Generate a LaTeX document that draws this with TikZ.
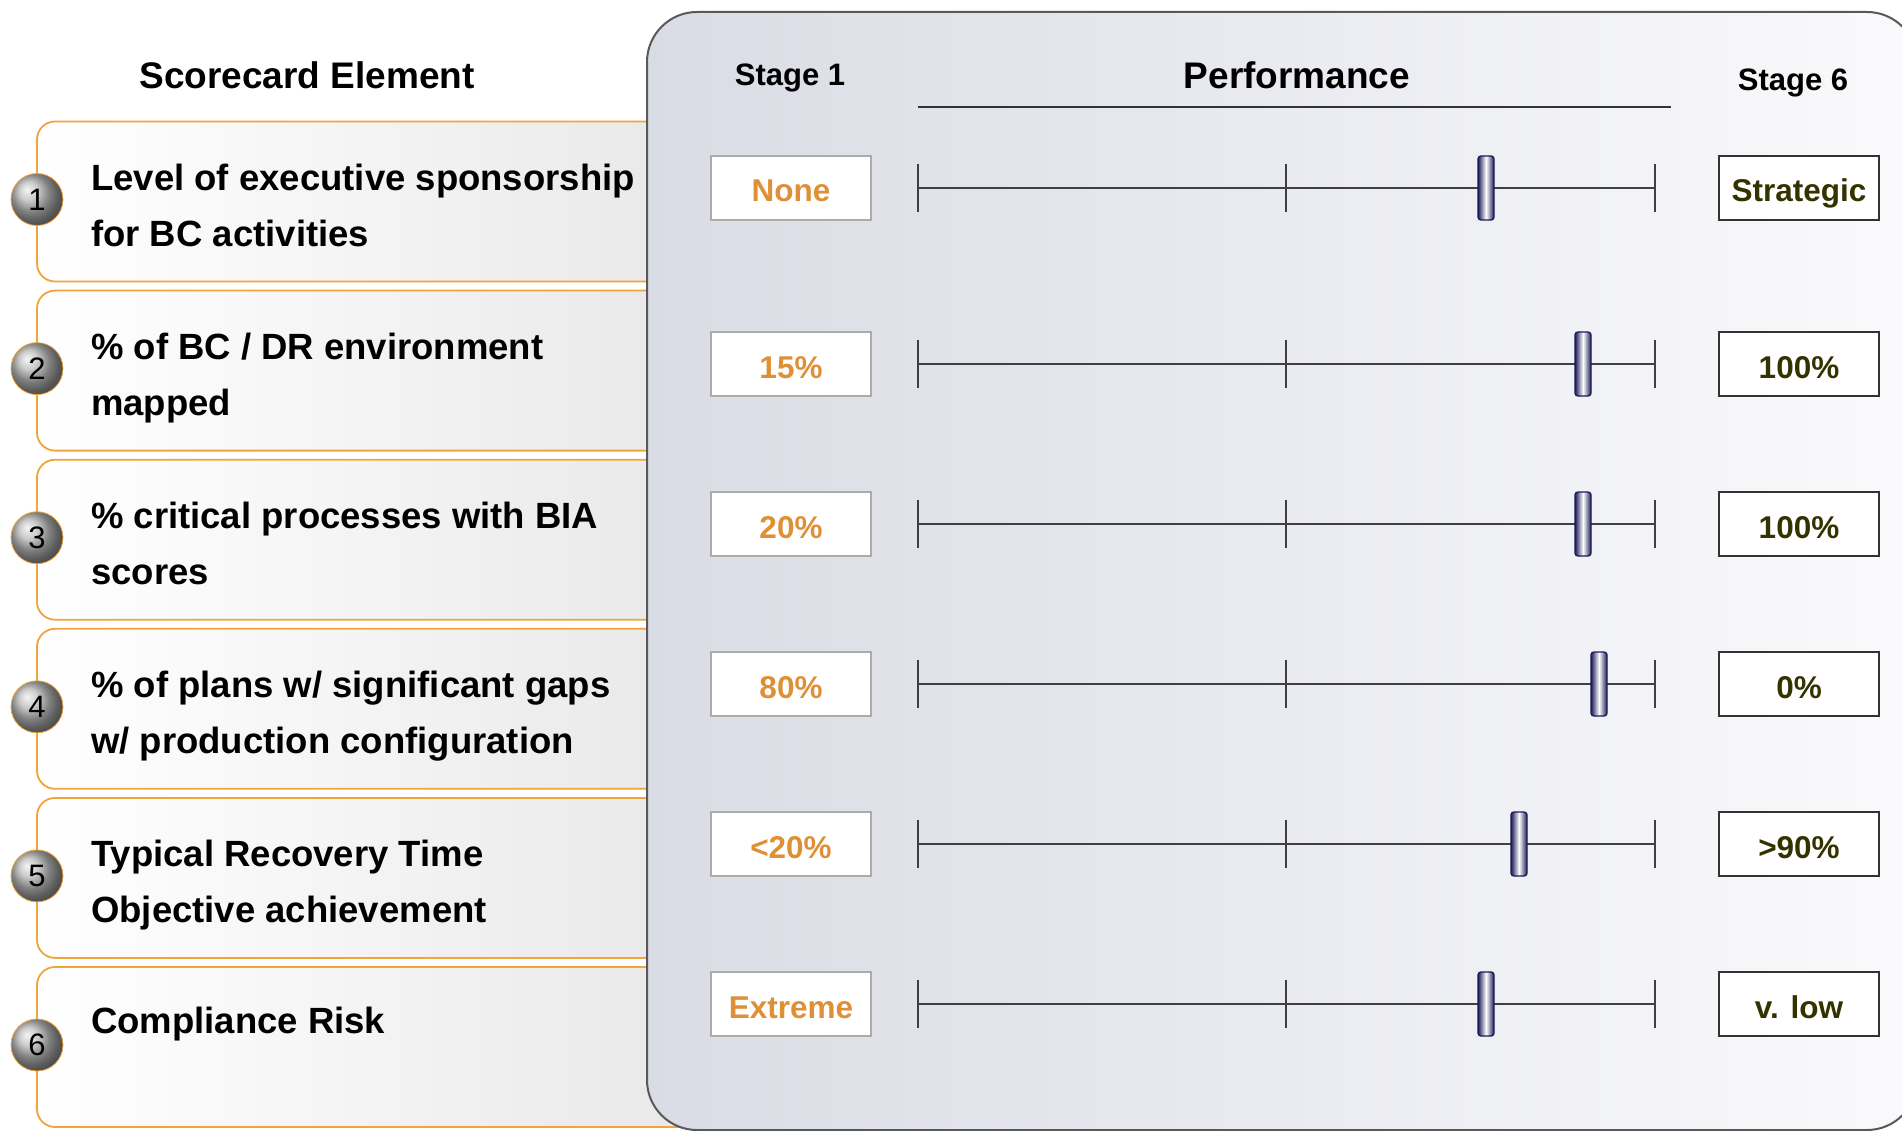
\documentclass[tikz,border=0pt]{standalone}
\usepackage{fontspec}
\setmainfont{Liberation Sans}
\usepackage{tikz}

\definecolor{cardorange}{HTML}{F0A53A}
\definecolor{lowtext}{HTML}{DF9036}
\definecolor{hightext}{HTML}{333300}
\definecolor{panelleft}{HTML}{DADCE5}
\definecolor{panelright}{HTML}{FAFAFC}
\definecolor{knobnavy}{HTML}{1C1C58}

\begin{document}
\begin{tikzpicture}[x=1pt, y=-1pt,
        card/.style={draw=cardorange, line width=1.8pt, rounded corners=18pt, left color=white, right color=gray!18},
        ballnum/.style={circle, minimum size=52pt, inner sep=0pt, ball color=gray!55, draw=cardorange, line width=0.8pt, font=\fontsize{31}{31}\selectfont},
        rowtext/.style={anchor=base west, inner sep=0pt, font=\bfseries\fontsize{36.5}{40}\selectfont},
        headtext/.style={anchor=base, inner sep=0pt, font=\bfseries\fontsize{37}{40}\selectfont},
        stagetext/.style={anchor=base, inner sep=0pt, font=\bfseries\fontsize{31}{34}\selectfont},
        lowbox/.style={draw=gray!65, line width=1.5pt, fill=white, minimum width=160pt, minimum height=64pt, text height=28pt, text depth=0pt, inner sep=0pt, text=lowtext, font=\bfseries\fontsize{31.5}{34}\selectfont},
        highbox/.style={lowbox, draw=black!80, line width=1.8pt, text=hightext},
        slider/.style={draw=black!75, line width=1.5pt},
        knob/.style={rectangle, rounded corners=3pt, minimum width=16pt, minimum height=64pt, inner sep=0pt, draw=knobnavy, line width=1.4pt, left color=knobnavy, right color=knobnavy, middle color=white}]
        \useasboundingbox (0,0) rectangle (1902,1131);
        \clip (0,0) rectangle (1902,1131);

        % scorecard elements
        \node[headtext] (scoretitle) at (307,89) {Scorecard Element};
        \draw[card] (37,121.5) rectangle (700,281.5);
        \draw[card] (37,290.6) rectangle (700,450.6);
        \draw[card] (37,459.7) rectangle (700,619.7);
        \draw[card] (37,628.8) rectangle (700,788.8);
        \draw[card] (37,797.9) rectangle (700,957.9);
        \draw[card] (37,967) rectangle (700,1127);

        % performance panel
        \draw[rounded corners=50pt, left color=panelleft, right color=panelright, draw=black!65, line width=2pt] (647,12) rectangle (1917,1130);

        \node[ballnum] (num1) at (37,199.5) {1};
        \node[rowtext] (elem1a) at (91,190.5) {Level of executive sponsorship};
        \node[rowtext] (elem1b) at (91,246.5) {for BC activities};
        \node[ballnum] (num2) at (37,368.6) {2};
        \node[rowtext] (elem2a) at (91,359.6) {\% of BC / DR environment};
        \node[rowtext] (elem2b) at (91,415.6) {mapped};
        \node[ballnum] (num3) at (37,537.7) {3};
        \node[rowtext] (elem3a) at (91,528.7) {\% critical processes with BIA};
        \node[rowtext] (elem3b) at (91,584.7) {scores};
        \node[ballnum] (num4) at (37,706.8) {4};
        \node[rowtext] (elem4a) at (91,697.8) {\% of plans w/ significant gaps};
        \node[rowtext] (elem4b) at (91,753.8) {w/ production configuration};
        \node[ballnum] (num5) at (37,875.9) {5};
        \node[rowtext] (elem5a) at (91,866.9) {Typical Recovery Time};
        \node[rowtext] (elem5b) at (91,922.9) {Objective achievement};
        \node[ballnum] (num6) at (37,1045) {6};
        \node[rowtext] (elem6a) at (91,1033) {Compliance Risk};

        % headings
        \node[stagetext] (stageone) at (790,86) {Stage 1};
        \node[headtext] (perf) at (1297,89) {Performance};
        \node[stagetext] (stagesix) at (1793,91) {Stage 6};
        \coordinate (perfL) at (918,107);
        \coordinate (perfR) at (1671,107);
        \draw[black!80, line width=1.5pt] (perfL) -- (perfR);

        % sliders
        \foreach \y/\k/\lo/\hi [count=\i] in {188/1486/None/Strategic, 364/1583/15\%/100\%, 524/1583/20\%/100\%, 684/1599/80\%/0\%, 844/1519/<20\%/>90\%, 1004/1486/Extreme/v. low} {
            \node[lowbox] (low\i) at (791,\y) {\lo};
            \node[highbox] (high\i) at (1799,\y) {\hi};
            \coordinate (sl\i) at (918,\y);
            \coordinate (sm\i) at (1286,\y);
            \coordinate (sr\i) at (1655,\y);
            \draw[slider] (sl\i) -- (sr\i);
            \draw[slider] ([yshift=24pt]sl\i) -- ([yshift=-24pt]sl\i);
            \draw[slider] ([yshift=24pt]sm\i) -- ([yshift=-24pt]sm\i);
            \draw[slider] ([yshift=24pt]sr\i) -- ([yshift=-24pt]sr\i);
            \node[knob] (knob\i) at (\k,\y) {};
        }
    \end{tikzpicture}
\end{document}
